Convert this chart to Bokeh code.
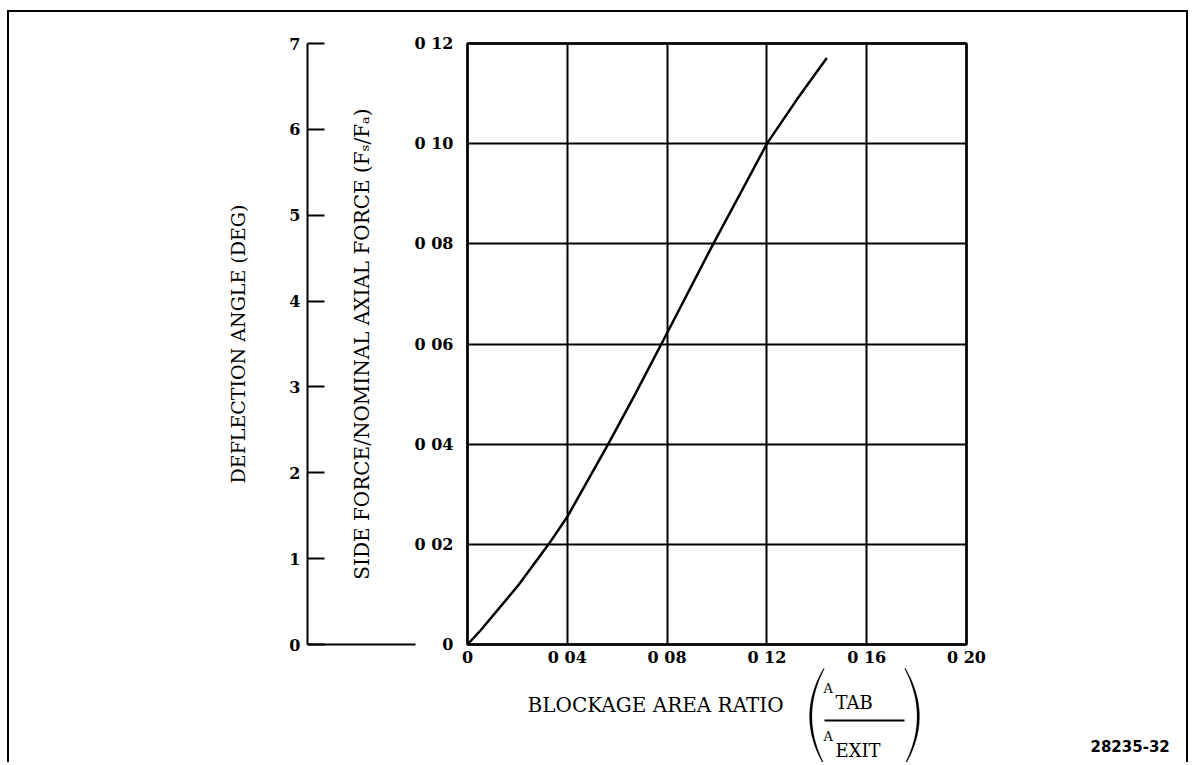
import numpy as np
from bokeh.plotting import figure
from bokeh.models import (LinearAxis, Range1d, FixedTicker, Label, BoxAnnotation,
                          PolyAnnotation, Grid)
from bokeh.embed import file_html
from bokeh.resources import INLINE

# ---------------- data ----------------
blockage_ratio = [0, 0.0052, 0.02, 0.0325, 0.04, 0.0564, 0.067, 0.0777, 0.08,
                  0.0985, 0.1095, 0.12, 0.132, 0.144]
side_force = [0, 0.0028, 0.0116, 0.02, 0.0255, 0.04, 0.0498, 0.06, 0.0622,
              0.08, 0.0902, 0.10, 0.1088, 0.1171]

x_ticks = [0, 0.04, 0.08, 0.12, 0.16, 0.20]
x_tick_labels = ["0", "0 04", "0 08", "0 12", "0 16", "0 20"]
y_ticks = [0, 0.02, 0.04, 0.06, 0.08, 0.10, 0.12]
y_tick_labels = ["0", "0 02", "0 04", "0 06", "0 08", "0 10", "0 12"]
defl_ticks = [0, 1, 2, 3, 4, 5, 6, 7]
defl_tick_labels = ["0", "1", "2", "3", "4", "5", "6", "7"]

SERIF = "DejaVu Serif"

# ---------------- layout (page pixels) ----------------
W, H = 1181, 752           # canvas size
CX0, CY0 = 9, 12           # page position of the canvas
FX0, FX1, FY0, FY1 = 467, 966, 644, 43   # page pixels of the data box
X_MIN, X_MAX = x_ticks[0], x_ticks[-1]
Y_MIN, Y_MAX = y_ticks[0], y_ticks[-1]
D_MIN, D_MAX = defl_ticks[0], defl_ticks[-1]

kx = (X_MAX - X_MIN) / (FX1 - FX0)
ky = (Y_MAX - Y_MIN) / (FY0 - FY1)
kd = (D_MAX - D_MIN) / (FY0 - FY1)
x_start = X_MIN - (FX0 - CX0) * kx
y_end = Y_MAX + (FY1 - CY0) * ky
d_end = D_MAX + (FY1 - CY0) * kd


def px2x(px):
    return X_MIN + (px - FX0) * kx


def px2y(py):
    return Y_MIN + (FY0 - py) * ky


p = figure(width=W, height=H, output_backend="svg", toolbar_location=None,
           x_axis_type=None, y_axis_type=None,
           x_range=Range1d(x_start, x_start + W * kx),
           y_range=Range1d(y_end - H * ky, y_end),
           min_border=0, min_border_left=0, min_border_right=0,
           min_border_top=0, min_border_bottom=0,
           background_fill_color="white", border_fill_color="white",
           styles={"margin-left": "7px", "margin-top": "10px",
                   "border-top": "2px solid black", "border-left": "2px solid black",
                   "border-right": "2px solid black"})
p.outline_line_color = None
p.extra_y_ranges = {"defl": Range1d(d_end - H * kd, d_end)}

# ---------------- grid ----------------
grid_kw = dict(grid_line_color="black", grid_line_width=2, grid_line_alpha=1)
if "cross_bounds" in Grid.properties():
    p.add_layout(Grid(dimension=0, ticker=FixedTicker(ticks=x_ticks),
                      cross_bounds=(Y_MIN, Y_MAX), bounds=(X_MIN, X_MAX), **grid_kw))
    p.add_layout(Grid(dimension=1, ticker=FixedTicker(ticks=y_ticks),
                      cross_bounds=(X_MIN, X_MAX), bounds=(Y_MIN, Y_MAX), **grid_kw))
else:
    p.segment(x0=x_ticks, y0=[Y_MIN] * len(x_ticks), x1=x_ticks,
              y1=[Y_MAX] * len(x_ticks), line_color="black", line_width=2)
    p.segment(x0=[X_MIN] * len(y_ticks), y0=y_ticks, x1=[X_MAX] * len(y_ticks),
              y1=y_ticks, line_color="black", line_width=2)

# plot box
p.quad(left=X_MIN, right=X_MAX, bottom=Y_MIN, top=Y_MAX, fill_color=None,
       line_color="black", line_width=2.5)


def style_ticks(ax, standoff):
    ax.major_label_standoff = standoff
    ax.major_label_text_font = SERIF
    ax.major_label_text_font_style = "bold"
    ax.major_label_text_font_size = "16px"
    ax.major_label_text_color = "black"
    ax.minor_tick_line_color = None


# x axis
xa = LinearAxis(fixed_location=Y_MIN, bounds=(X_MIN, X_MAX),
                ticker=FixedTicker(ticks=x_ticks))
xa.major_label_overrides = {t: l for t, l in zip(x_ticks, x_tick_labels)}
xa.axis_line_color = None
xa.major_tick_in = 0
xa.major_tick_out = 0
style_ticks(xa, 3)
p.add_layout(xa, "below")

# main y axis
ya = LinearAxis(fixed_location=X_MIN, bounds=(Y_MIN, Y_MAX),
                ticker=FixedTicker(ticks=y_ticks))
ya.major_label_overrides = {t: l for t, l in zip(y_ticks, y_tick_labels)}
ya.axis_line_color = None
ya.major_tick_in = 0
ya.major_tick_out = 0
style_ticks(ya, 14)
ya.axis_label = "SIDE FORCE/NOMINAL AXIAL FORCE (F\u209b/F\u2090)"
ya.axis_label_text_font = SERIF
ya.axis_label_text_font_style = "normal"
ya.axis_label_text_font_size = "20px"
ya.axis_label_text_color = "black"
ya.axis_label_standoff = 38
p.add_layout(ya, "left")

# deflection axis
da = LinearAxis(y_range_name="defl", fixed_location=px2x(307), bounds=(D_MIN, D_MAX),
                ticker=FixedTicker(ticks=defl_ticks))
da.major_label_overrides = {t: l for t, l in zip(defl_ticks, defl_tick_labels)}
da.axis_line_color = "black"
da.axis_line_width = 2
da.major_tick_in = 17
da.major_tick_out = 0
da.major_tick_line_width = 2
style_ticks(da, 7)
da.axis_label = "DEFLECTION ANGLE (DEG)"
da.axis_label_text_font = SERIF
da.axis_label_text_font_style = "normal"
da.axis_label_text_font_size = "19px"
da.axis_label_text_color = "black"
da.axis_label_standoff = 37
p.add_layout(da, "left")

# curve
p.line(blockage_ratio, side_force, line_color="black", line_width=2.5)


# x axis label pieces
def lab(text, px, py, size, align="left", bold=False, font=SERIF):
    p.add_layout(Label(x=px2x(px), y=px2y(py), text=text, text_font=font,
                       text_font_size=size, text_align=align,
                       text_baseline="middle", text_color="black",
                       text_font_style="bold" if bold else "normal"))


lab("BLOCKAGE AREA RATIO", 527, 704, "20px")
lab("A", 823, 688, "13px")
lab("TAB", 835, 702, "18px")
lab("A", 823, 736, "13px")
lab("EXIT", 835, 750, "18px")
lab("28235-32", 1090, 745, "15px", bold=True, font="DejaVu Sans")

# fraction bar and stub at deflection zero
p.add_layout(BoxAnnotation(left=px2x(824), right=px2x(904), top=px2y(719),
                           bottom=px2y(721), fill_color="black", fill_alpha=1,
                           line_color=None))
p.add_layout(BoxAnnotation(left=px2x(307), right=px2x(415), top=px2y(643),
                           bottom=px2y(645), fill_color="black", fill_alpha=1,
                           line_color=None))

# large parentheses
t = np.linspace(-1, 1, 31)
ys_px = 716 + 48 * t
bulge = 1 - t ** 2
lx_out = 823 - 14 * bulge
lx_in = lx_out + 1 + 1.5 * bulge
rx_out = 905 + 14 * bulge
rx_in = rx_out - 1 - 1.5 * bulge
for xo, xi in ((lx_out, lx_in), (rx_out, rx_in)):
    xs = [px2x(v) for v in list(xo) + list(xi[::-1])]
    ys = [px2y(v) for v in list(ys_px) + list(ys_px[::-1])]
    p.add_layout(PolyAnnotation(xs=xs, ys=ys, fill_color="black", fill_alpha=1,
                                line_color="black", line_width=0.5))

open("out.html", "w").write(file_html(p, INLINE))
